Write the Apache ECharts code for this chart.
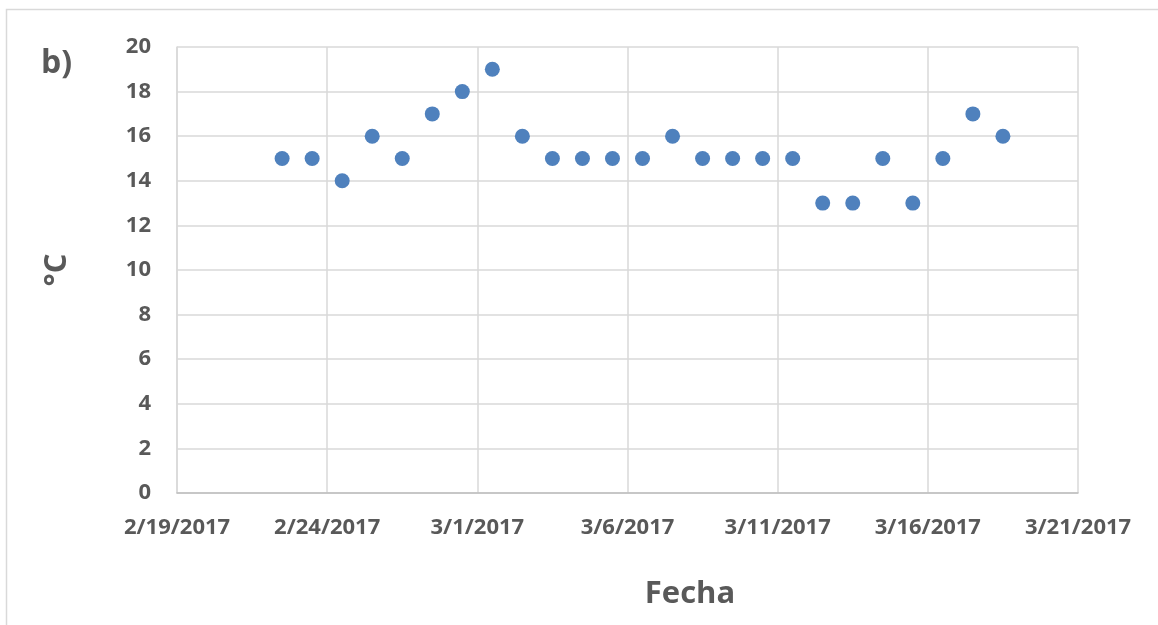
<!DOCTYPE html>
<html>
<head>
<meta charset="utf-8">
<script src="https://cdn.jsdelivr.net/npm/echarts@6/dist/echarts.min.js"></script>
<style>
  html, body { margin: 0; padding: 0; background: #ffffff; }
  #chart { width: 1158px; height: 625px; }
</style>
</head>
<body>
<div id="chart"></div>
<script>
// Daily readings (local noon), 22 Feb – 18 Mar 2017
const fechas = [
  '2017-02-22T12:00', '2017-02-23T12:00', '2017-02-24T12:00', '2017-02-25T12:00',
  '2017-02-26T12:00', '2017-02-27T12:00', '2017-02-28T12:00', '2017-03-01T12:00',
  '2017-03-02T12:00', '2017-03-03T12:00', '2017-03-04T12:00', '2017-03-05T12:00',
  '2017-03-06T12:00', '2017-03-07T12:00', '2017-03-08T12:00', '2017-03-09T12:00',
  '2017-03-10T12:00', '2017-03-11T12:00', '2017-03-12T12:00', '2017-03-13T12:00',
  '2017-03-14T12:00', '2017-03-15T12:00', '2017-03-16T12:00', '2017-03-17T12:00',
  '2017-03-18T12:00'
];
const temperaturas = [
  15, 15, 14, 16, 15, 17, 18, 19, 16, 15, 15, 15, 15,
  16, 15, 15, 15, 15, 13, 13, 15, 13, 15, 17, 16
];

// Date axis range and step (days)
const fechaInicio = '2017-02-19';
const fechaFin = '2017-03-21';
const pasoDias = 5;

const DAY = 86400000;
function toUTC(s) {
  const [d, t] = s.split('T');
  const [y, m, dd] = d.split('-').map(Number);
  const [hh, mi] = (t || '00:00').split(':').map(Number);
  return Date.UTC(y, m - 1, dd, hh, mi);
}
const base = toUTC(fechaInicio);
const span = (toUTC(fechaFin) - base) / DAY;
const puntos = fechas.map((f, i) => [(toUTC(f) - base) / DAY, temperaturas[i]]);

function fmtFecha(v) {
  const d = new Date(base + Math.round(v) * DAY);
  return (d.getUTCMonth() + 1) + '/' + d.getUTCDate() + '/' + d.getUTCFullYear();
}

const textColor = '#595959';
const fontFam = '"Open Sans", "DejaVu Sans", sans-serif';

const chart = echarts.init(document.getElementById('chart'));
chart.setOption({
  animation: false,
  backgroundColor: '#ffffff',
  title: {
    text: 'b)',
    left: 36,
    top: 43,
    textStyle: { color: textColor, fontFamily: fontFam, fontWeight: 'bold', fontSize: 32 }
  },
  grid: { left: 177, right: 80, top: 47, bottom: 132 },
  xAxis: {
    type: 'value',
    min: 0,
    max: span,
    interval: pasoDias,
    axisLine: { show: true, lineStyle: { color: '#bfbfbf', width: 1.5 } },
    axisTick: { show: false },
    splitLine: { show: true, lineStyle: { color: '#d9d9d9', width: 1.5 } },
    axisLabel: {
      formatter: fmtFecha,
      color: textColor, fontFamily: fontFam, fontWeight: 'bold', fontSize: 22, margin: 24
    }
  },
  yAxis: {
    type: 'value',
    min: 0,
    max: 20,
    interval: 2,
    name: '°C',
    nameLocation: 'middle',
    nameRotate: 90,
    nameGap: 104,
    nameTextStyle: { color: textColor, fontFamily: fontFam, fontWeight: 'bold', fontSize: 31 },
    axisLine: { show: true, lineStyle: { color: '#d9d9d9', width: 1.5 } },
    axisTick: { show: false },
    splitLine: { show: true, lineStyle: { color: '#d9d9d9', width: 1.5 } },
    axisLabel: { color: textColor, fontFamily: fontFam, fontWeight: 'bold', fontSize: 22, margin: 26 }
  },
  graphic: [
    {
      type: 'rect',
      silent: true,
      shape: { x: 6.5, y: 9.5, width: 1200, height: 700 },
      style: { fill: 'none', stroke: '#d9d9d9', lineWidth: 1.5 }
    },
    {
      type: 'text',
      silent: true,
      x: 690,
      y: 594,
      style: {
        text: 'Fecha',
        fill: textColor,
        font: 'bold 31px ' + fontFam,
        textAlign: 'center',
        textVerticalAlign: 'middle'
      }
    }
  ],
  series: [{
    type: 'scatter',
    data: puntos,
    symbol: 'circle',
    symbolSize: 15,
    itemStyle: { color: '#4f81bd', opacity: 1 }
  }]
});
</script>
</body>
</html>
